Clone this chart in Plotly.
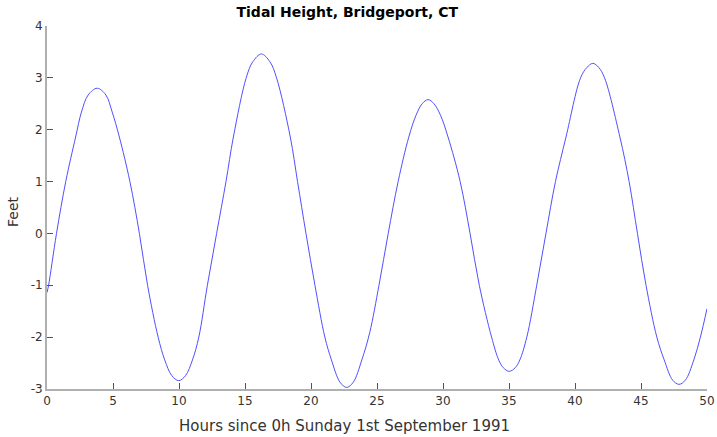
import plotly.graph_objects as go

hours = [0, 0.12, 0.72, 1.42, 2.17, 2.61, 3.12, 3.80, 4.46, 4.94, 5.48, 6.28, 7.00,
         7.62, 8.42, 8.92, 9.45, 9.98, 10.50, 11.02, 11.50, 12.15, 12.85, 13.56, 14.12, 15.09,
         15.59, 16.24, 16.89, 17.39, 18.43, 18.98, 19.62, 20.30, 21.05, 21.55,
         22.20, 22.70, 23.20, 23.85, 24.45, 25.15, 25.85, 26.60, 27.41, 27.96,
         28.42, 28.87, 29.32, 29.81,
         30.38, 31.30, 32.05, 32.75, 33.68, 34.22, 34.57, 35.02, 35.47, 35.82, 36.35, 37.10,
         37.80, 38.52, 39.32, 40.42, 40.90, 41.35, 41.80, 42.24, 43.40, 44.10, 44.73, 45.38,
         46.20, 46.76, 47.40, 47.88, 48.36, 49.00, 49.50, 50.0]
feet = [-1.14, -1.0, 0, 1, 1.86, 2.34, 2.67, 2.80, 2.67, 2.34, 1.86, 1, 0,
        -1, -2, -2.44, -2.74, -2.84, -2.74, -2.44, -2, -1, 0, 1, 1.86, 3.0,
        3.31, 3.46, 3.31, 3.0, 1.86, 1, 0, -1, -2, -2.44,
        -2.87, -2.97, -2.87, -2.44, -1.91, -1, 0, 1, 1.86, 2.28,
        2.50, 2.58, 2.50, 2.28,
        1.86, 1, 0, -1, -2, -2.44, -2.59, -2.66, -2.59, -2.44, -2, -1,
        0, 1, 1.86, 3.0, 3.20, 3.28, 3.20, 3.0, 1.86, 1, 0, -1,
        -2, -2.44, -2.83, -2.91, -2.83, -2.44, -2.0, -1.45]

x_ticks = [0, 5, 10, 15, 20, 25, 30, 35, 40, 45, 50]
y_ticks = [-3, -2, -1, 0, 1, 2, 3, 4]

FONT = "DejaVu Sans"
fig = go.Figure()
fig.add_trace(go.Scatter(x=hours, y=feet, mode="lines",
                         line=dict(color="#5050ff", width=1, shape="spline", smoothing=1.0),
                         showlegend=False, hoverinfo="skip"))

axis_common = dict(showgrid=False, zeroline=False, showline=True, linecolor="#b0b0b0",
                   linewidth=2, ticks="inside", ticklen=6, tickwidth=1, tickcolor="#555555",
                   tickfont=dict(family=FONT, size=12, color="#333333"))
fig.update_xaxes(range=[0, 50], tickvals=x_ticks, ticktext=[str(v) for v in x_ticks], **axis_common)
fig.update_yaxes(range=[-3, 4], tickvals=y_ticks, ticktext=[str(v) for v in y_ticks], **axis_common)

fig.update_layout(
    width=717, height=437,
    margin=dict(l=47, r=10, t=26, b=48, autoexpand=False),
    paper_bgcolor="white", plot_bgcolor="white",
    font=dict(family=FONT, color="#222222"),
    title=dict(text="<b>Tidal Height, Bridgeport, CT</b>", x=0.455, xref="paper", xanchor="center",
               y=1 - 12 / 437, yref="container", yanchor="middle",
               font=dict(family=FONT, size=14, color="#000000")),
    annotations=[
        dict(text="Hours since 0h Sunday 1st September 1991", xref="paper", yref="paper",
             x=0.4515, y=-0.1019, xanchor="center", yanchor="middle", showarrow=False,
             font=dict(family=FONT, size=15, color="#333333")),
        dict(text="Feet", xref="paper", yref="paper", x=-0.0515, y=0.4876, textangle=-90,
             xanchor="center", yanchor="middle", showarrow=False,
             font=dict(family=FONT, size=14, color="#333333")),
    ],
)
fig.write_html("out.html")
